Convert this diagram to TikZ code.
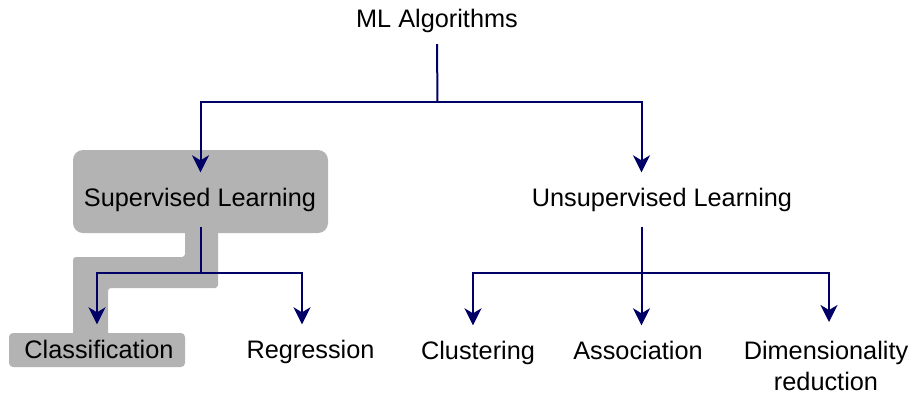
\documentclass[tikz,border=0pt]{standalone}
\usepackage{fontspec}
\setmainfont{Liberation Sans}
\usetikzlibrary{arrows.meta}
\definecolor{hlgray}{RGB}{179,179,179}
\definecolor{navy}{RGB}{0,0,102}
\begin{document}
\begin{tikzpicture}[x=1pt,y=-1pt,
  lbl/.style={inner sep=0pt, text height=18pt, text depth=5pt, minimum height=54pt,
              font=\fontsize{25.3}{31}\selectfont},
  conn/.style={draw=navy, line width=2pt, -{Stealth[length=17pt,width=17pt,inset=5pt]}},
  plain/.style={draw=navy, line width=2pt}]
\useasboundingbox (0,0) rectangle (911,397);
% gray highlights
\fill[hlgray, rounded corners=10pt] (73,150) rectangle (328,233);
\fill[hlgray, rounded corners=3pt] (185,228) -- (185,257) -- (73,257) -- (73,340) -- (108,340)
   -- (108,288) -- (218,288) -- (218,228) -- cycle;
\fill[hlgray, rounded corners=4pt] (9,333) rectangle (185,367);
% nodes
\node[lbl, minimum height=47pt] (ml) at (437,20.5) {ML Algorithms};
\node[lbl] (sup) at (200,199.5) {Supervised Learning};
\node[lbl] (unsup) at (662,199.5) {Unsupervised Learning};
\node[lbl] (cls) at (99,351.5) {Classification};
\node[lbl] (reg) at (310.5,351.5) {Regression};
\node[lbl] (clu) at (478,352.5) {Clustering};
\node[lbl] (ass) at (638,352.5) {Association};
\node[inner xsep=0pt, inner ysep=19pt, anchor=north, align=center,
      font=\fontsize{25.3}{31}\selectfont] (dim) at (826,322) {Dimensionality\\reduction};
% junctions
\coordinate (j1) at (437.5,102);
\coordinate (j2) at (200.5,273);
\coordinate (j3) at (641.5,273);
% connectors
\draw[plain] (ml.south) -- (j1);
\draw[conn] (j1) -| ([xshift=0.5pt]sup.north);
\draw[conn] (j1) -| ([xshift=-20.5pt]unsup.north);
\draw[plain] ([xshift=0.5pt]sup.south) -- (j2);
\draw[conn] (j2) -| ([xshift=-2pt]cls.north);
\draw[conn] (j2) -| ([xshift=-8.5pt]reg.north);
\draw[plain] ([xshift=-20.5pt]unsup.south) -- (j3);
\draw[conn] (j3) -| ([xshift=-5pt]clu.north);
\draw[conn] (j3) -- (j3 |- ass.north);
\draw[conn] (j3) -| ([xshift=3pt]dim.north);
\end{tikzpicture}
\end{document}
